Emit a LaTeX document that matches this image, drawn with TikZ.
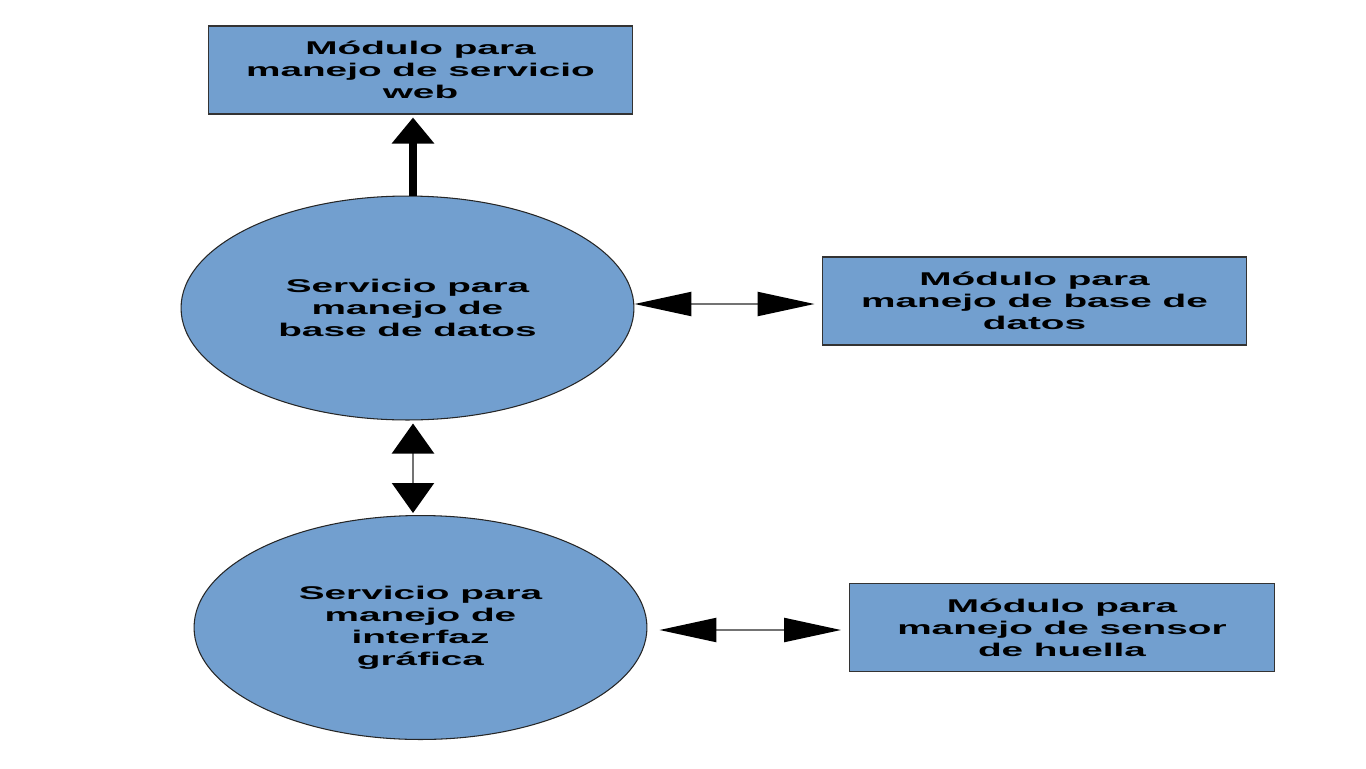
\documentclass[tikz,border=0pt]{standalone}
\usepackage{fontspec}
\newfontfamily\diagfont[FakeStretch=2.1]{Liberation Sans}
\usetikzlibrary{shapes.geometric,arrows.meta}
\definecolor{azul}{HTML}{729FCF}
\tikzset{
    texto/.style={align=center, text=black, font=\diagfont\bfseries\fontsize{10.5}{12.5}\selectfont},
    modulo/.style={texto, draw=black!80, line width=0.6pt, fill=azul, minimum width=8.5cm, minimum height=1.76cm, inner sep=0pt},
    servicio/.style={texto, ellipse, draw=black!85, line width=0.6pt, fill=azul, minimum width=9.06cm, minimum height=4.48cm, inner sep=0pt},
    flecha/.style={line width=1.3pt, draw=black!55, {Triangle[length=1.14cm,width=0.48cm,color=black]}-{Triangle[length=1.14cm,width=0.48cm,color=black]}},
    flechav/.style={line width=1.3pt, draw=black!55, {Triangle[length=0.6cm,width=0.84cm,color=black]}-{Triangle[length=0.6cm,width=0.84cm,color=black]}},
    gruesa/.style={line width=5pt, draw=black, -{Triangle[length=0.52cm,width=0.82cm]}}
}
\begin{document}
\begin{tikzpicture}[x=0.02cm, y=-0.02cm]
    \useasboundingbox (0,0) rectangle (1366,768);

    % Módulos (rectángulos)
    \node[modulo] (web) at (420.5,70) {Módulo para\\manejo de servicio\\web};
    \node[modulo] (bd) at (1034.5,301) {Módulo para\\manejo de base de\\datos};
    \node[modulo] (huella) at (1062,627.5) {Módulo para\\manejo de sensor\\de huella};

    % Servicios (elipses)
    \node[servicio] (sbd) at (407.5,308) {Servicio para\\manejo de\\base de datos};
    \node[servicio] (sgui) at (420.5,627.5) {Servicio para\\manejo de\\interfaz\\gráfica};

    % Conexiones
    \draw[gruesa, shorten >=0.06cm] ([xshift=0.11cm]sbd.north) -- ([xshift=0.11cm]sbd.north |- web.south);
    \draw[flecha, shorten >=0.14cm] ([yshift=0.08cm]sbd.east) -- ([yshift=0.08cm]sbd.east -| bd.west);
    \draw[flechav, shorten <=0.06cm, shorten >=0.04cm] ([xshift=0.11cm]sbd.south) -- ([xshift=0.11cm]sbd.south |- sgui.north);
    \draw[flecha, shorten <=0.24cm, shorten >=0.16cm] ([yshift=-0.05cm]sgui.east) -- ([yshift=-0.05cm]huella.west);
\end{tikzpicture}
\end{document}
